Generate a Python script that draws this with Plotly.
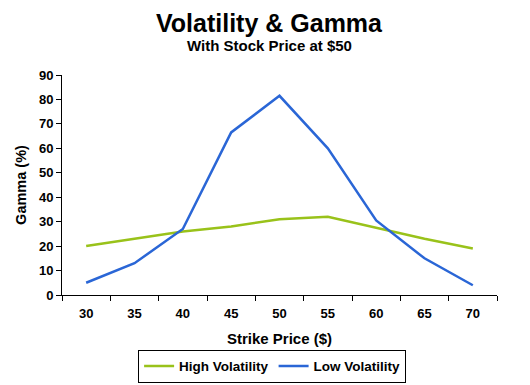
import plotly.graph_objects as go

strikes = ["30", "35", "40", "45", "50", "55", "60", "65", "70"]
high_vol = [20, 23, 26, 28, 31, 32, 27.5, 23, 19]
low_vol = [5, 13, 27, 66.5, 81.5, 60, 30.5, 15, 4]
y_ticks = [0, 10, 20, 30, 40, 50, 60, 70, 80, 90]

font_family = "Liberation Sans, Arial, sans-serif"

fig = go.Figure()
fig.add_trace(go.Scatter(x=strikes, y=high_vol, mode="lines", name="High Volatility",
                         line=dict(color="#99c21a", width=2.5)))
fig.add_trace(go.Scatter(x=strikes, y=low_vol, mode="lines", name="Low Volatility",
                         line=dict(color="#2a66d6", width=2.5)))

fig.update_layout(
    width=530, height=385,
    margin=dict(l=62, r=33, t=75, b=90, autoexpand=False),
    paper_bgcolor="white", plot_bgcolor="white",
    font=dict(family=font_family, color="black"),
    annotations=[
        dict(text="Volatility &amp; Gamma", x=0.478, y=1.236, xref="paper", yref="paper",
             xanchor="center", yanchor="middle", showarrow=False,
             font=dict(size=25, family=font_family, weight="bold", color="black")),
        dict(text="With Stock Price at $50", x=0.478, y=1.133, xref="paper", yref="paper",
             xanchor="center", yanchor="middle", showarrow=False,
             font=dict(size=15, family=font_family, weight="bold", color="black")),
    ],
    showlegend=True,
    legend=dict(orientation="h", x=0.483, xanchor="center",
                yref="container", y=0.049, yanchor="middle",
                bordercolor="black", borderwidth=1, bgcolor="white",
                font=dict(size=13.5, family=font_family, color="black", weight="bold"),
                itemwidth=30, tracegroupgap=0),
    xaxis=dict(
        type="category", range=[-0.5, 8.5], showgrid=False, showline=True,
        linecolor="black", linewidth=1, automargin=False,
        ticks="outside", tickson="boundaries", ticklen=5, tickcolor="black",
        ticklabelstandoff=6,
        tickfont=dict(size=13, family=font_family, weight="bold"),
        title=dict(text="Strike Price ($)", font=dict(size=15, weight="bold"), standoff=13),
    ),
    yaxis=dict(
        range=[0, 90], tickvals=y_ticks, showgrid=False, showline=True, linecolor="black",
        linewidth=1, ticks="outside", ticklen=5, tickcolor="black", zeroline=False,
        automargin=False,
        tickfont=dict(size=13, family=font_family, weight="bold"),
        title=dict(text="Gamma (%)", font=dict(size=14.5, weight="bold"), standoff=8),
    ),
)

fig.write_html("out.html", config={"displayModeBar": False},
               post_script="document.body.style.margin='0';")
